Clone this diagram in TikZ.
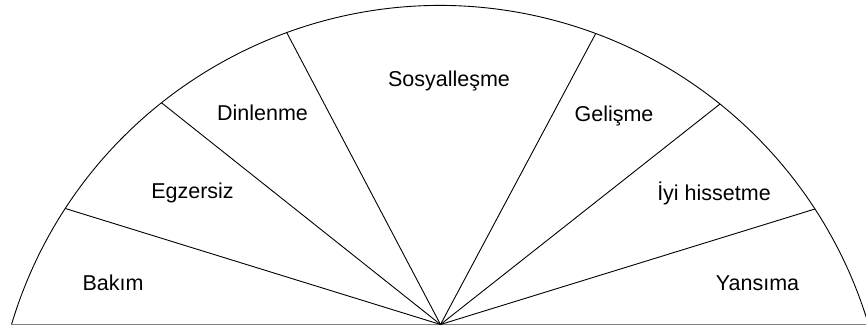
\documentclass[tikz,border=0pt]{standalone}
\usepackage{fontspec}
\setmainfont{Liberation Sans}
\begin{document}
\begin{tikzpicture}[x=1pt,y=1pt,
  spoke/.style={draw=black,line width=0.9pt},
  rim/.style={draw=black,line width=0.9pt},
  baseline/.style={draw=black!50,line width=1.6pt},
  lbl/.style={anchor=base,inner sep=0pt,font=\fontsize{21.5}{24}\selectfont}]
\useasboundingbox (0,0) rectangle (866,331);
% hub and rim points
\coordinate (O) at (440.5,6.5);
\coordinate (L) at (11.5,6.5);
\coordinate (R) at (868.5,6.5);
\coordinate (p1) at (65.3,122.5);
\coordinate (p2) at (161.4,228.3);
\coordinate (p3) at (286.7,298.5);
\coordinate (p4) at (595.8,297.6);
\coordinate (p5) at (720,227);
\coordinate (p6) at (815,122);
% base line and rim arc
\draw[baseline] (L) -- (R);
\draw[rim] (L) arc[start angle=163.33,end angle=16.67,radius=447.3];
% spokes
\foreach \p in {p1,p2,p3,p4,p5,p6}{\draw[spoke] (O) -- (\p);}
% labels
\node[lbl] (bakim) at (113,40.5) {Bakım};
\node[lbl] (egz) at (192.5,132) {Egzersiz};
\node[lbl] (din) at (262.5,210) {Dinlenme};
\node[lbl] (sos) at (449,244) {Sosyalleşme};
\node[lbl] (gel) at (614,209.5) {Gelişme};
\node[lbl] (iyi) at (714,130) {İyi hissetme};
\node[lbl] (yan) at (757.5,40.5) {Yansıma};
\end{tikzpicture}
\end{document}
